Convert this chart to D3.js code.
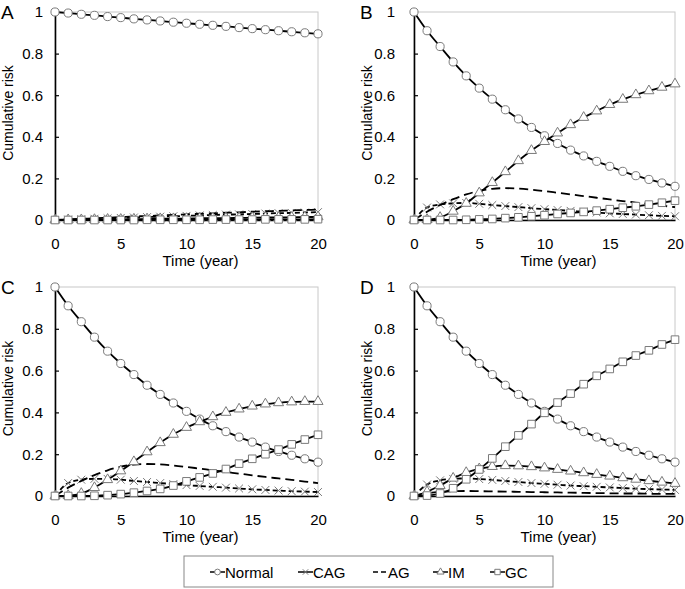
<!DOCTYPE html>
<html>
<head>
<meta charset="utf-8">
<script src="https://cdn.jsdelivr.net/npm/d3@7"></script>
<style>
  body { margin: 0; background: #fff; }
  svg { display: block; }
</style>
</head>
<body>
<div id="app"></div>
<script>
// time points (years)
const years = [0,1,2,3,4,5,6,7,8,9,10,11,12,13,14,15,16,17,18,19,20];
const xTicks = [0, 5, 10, 15, 20];
const yTicks = [0, 0.2, 0.4, 0.6, 0.8, 1];
const yTickLabels = ['0', '0.2', '0.4', '0.6', '0.8', '1'];
const seriesNames = ['Normal', 'CAG', 'AG', 'IM', 'GC'];
const panelLabels = ['A', 'B', 'C', 'D'];

// panel A
const normalA = [1.000,0.995,0.989,0.984,0.978,0.973,0.967,0.962,0.957,0.951,0.946,0.941,0.936,0.931,0.925,0.920,0.915,0.910,0.905,0.900,0.895];
const cagA = [0,0.002,0.004,0.006,0.008,0.010,0.012,0.014,0.016,0.018,0.020,0.022,0.024,0.026,0.027,0.029,0.031,0.033,0.034,0.036,0.038];
const agA = [0,0.003,0.006,0.008,0.011,0.014,0.017,0.019,0.022,0.025,0.027,0.030,0.032,0.035,0.037,0.040,0.042,0.044,0.046,0.048,0.050];
const imA = [0,0.001,0.001,0.002,0.003,0.003,0.004,0.005,0.006,0.006,0.007,0.008,0.009,0.009,0.010,0.011,0.012,0.012,0.013,0.014,0.015];
const gcA = [0,0,0,0,0,0,0,0.001,0.001,0.001,0.001,0.001,0.002,0.002,0.002,0.002,0.003,0.003,0.003,0.003,0.004];

// panel B
const normalB = [1,0.910,0.834,0.760,0.693,0.634,0.581,0.530,0.486,0.445,0.405,0.368,0.336,0.308,0.282,0.258,0.234,0.213,0.195,0.178,0.162];
const cagB = [0,0.060,0.075,0.080,0.082,0.078,0.072,0.067,0.062,0.057,0.052,0.048,0.044,0.040,0.036,0.032,0.029,0.026,0.023,0.020,0.018];
const agB = [0,0.040,0.072,0.100,0.123,0.140,0.150,0.153,0.151,0.146,0.139,0.131,0.123,0.115,0.107,0.099,0.091,0.084,0.077,0.069,0.062];
const imB = [0,0.002,0.012,0.042,0.080,0.130,0.180,0.232,0.285,0.334,0.377,0.418,0.458,0.493,0.524,0.555,0.580,0.602,0.621,0.638,0.654];
const gcB = [0,0,0,0,0.001,0.003,0.005,0.009,0.013,0.018,0.023,0.029,0.034,0.039,0.045,0.052,0.059,0.066,0.074,0.083,0.093];

// panel C
const normalC = [1,0.910,0.834,0.760,0.693,0.634,0.581,0.530,0.486,0.445,0.405,0.368,0.336,0.308,0.282,0.258,0.234,0.213,0.195,0.178,0.162];
const cagC = [0,0.062,0.078,0.082,0.082,0.078,0.072,0.067,0.062,0.057,0.052,0.048,0.044,0.040,0.036,0.032,0.029,0.026,0.023,0.021,0.019];
const agC = [0,0.040,0.072,0.100,0.123,0.140,0.150,0.153,0.151,0.146,0.139,0.131,0.123,0.115,0.107,0.099,0.091,0.084,0.077,0.069,0.062];
const imC = [0,0.002,0.012,0.040,0.078,0.120,0.164,0.211,0.255,0.295,0.328,0.355,0.379,0.400,0.416,0.430,0.440,0.446,0.450,0.452,0.452];
const gcC = [0,0,0,0.001,0.004,0.009,0.016,0.024,0.034,0.050,0.070,0.089,0.108,0.129,0.155,0.178,0.200,0.222,0.247,0.270,0.293];

// panel D
const normalD = [1,0.910,0.834,0.760,0.693,0.634,0.581,0.530,0.486,0.445,0.405,0.368,0.336,0.308,0.282,0.258,0.234,0.213,0.195,0.178,0.162];
const cagD = [0,0.055,0.075,0.082,0.084,0.081,0.077,0.072,0.067,0.062,0.058,0.054,0.050,0.047,0.044,0.041,0.038,0.035,0.033,0.031,0.029];
const agD = [0,0.013,0.020,0.023,0.024,0.023,0.022,0.021,0.020,0.019,0.018,0.017,0.016,0.015,0.014,0.013,0.012,0.012,0.011,0.010,0.010];
const imD = [0,0.020,0.050,0.085,0.112,0.130,0.141,0.145,0.144,0.140,0.134,0.127,0.119,0.111,0.103,0.095,0.087,0.080,0.073,0.066,0.060];
const gcD = [0,0.002,0.012,0.037,0.080,0.127,0.180,0.236,0.290,0.344,0.398,0.447,0.490,0.535,0.575,0.608,0.642,0.672,0.697,0.725,0.748];

const panelData = [
  [normalA, cagA, agA, imA, gcA],
  [normalB, cagB, agB, imB, gcB],
  [normalC, cagC, agC, imC, gcC],
  [normalD, cagD, agD, imD, gcD]
];

// plot boxes
const boxes = [
  { x0: 55,  x1: 318, y0: 12,  y1: 220, pad: 12 },
  { x0: 414, x1: 675, y0: 12,  y1: 220, pad: 19 },
  { x0: 55,  x1: 318, y0: 287, y1: 496, pad: 12 },
  { x0: 414, x1: 675, y0: 287, y1: 496, pad: 19 }
];

const font = '"Liberation Sans", Arial, sans-serif';
const markGray = '#7a7a7a';

// line/marker styles per series
const styles = {
  Normal: { dash: null,  symbol: d3.symbolCircle,   size: 52 },
  CAG:    { dash: '5,3', symbol: d3.symbolTimes,    size: 42 },
  AG:     { dash: '9,5', symbol: null,              size: 0 },
  IM:     { dash: null,  symbol: d3.symbolTriangle, size: 44 },
  GC:     { dash: null,  symbol: d3.symbolSquare,   size: 58 }
};

const svg = d3.select('#app').append('svg')
    .attr('width', 685)
    .attr('height', 589)
    .style('font-family', font);

boxes.forEach((b, i) => {
  const x = d3.scaleLinear().domain([0, 20]).range([b.x0, b.x1]);
  const y = d3.scaleLinear().domain([0, 1]).range([b.y1, b.y0]);
  const g = svg.append('g');

  // light frame
  g.append('rect')
      .attr('x', b.x0).attr('y', b.y0)
      .attr('width', b.x1 - b.x0).attr('height', b.y1 - b.y0)
      .attr('fill', 'none')
      .attr('stroke', '#c8c8c8')
      .attr('stroke-width', 1);

  // y axis
  const yAxis = g.append('g')
      .attr('transform', `translate(${b.x0},0)`)
      .call(d3.axisLeft(y).tickValues(yTicks)
        .tickFormat((d, k) => yTickLabels[k])
        .tickSizeInner(-4).tickSizeOuter(0).tickPadding(b.pad));
  yAxis.select('.domain').attr('stroke', '#000').attr('stroke-width', 1.6);
  yAxis.selectAll('.tick line').attr('stroke', '#000').attr('stroke-width', 1.2);
  yAxis.selectAll('text').attr('font-size', 15).attr('fill', '#000').style('font-family', font);

  // x axis
  const xAxis = g.append('g')
      .attr('transform', `translate(0,${b.y1})`)
      .call(d3.axisBottom(x).tickValues(xTicks).tickSize(0).tickPadding(18));
  xAxis.select('.domain').attr('stroke', '#000').attr('stroke-width', 1.6);
  xAxis.selectAll('text').attr('font-size', 15).attr('fill', '#000').style('font-family', font);

  // axis titles
  g.append('text')
      .attr('x', (b.x0 + b.x1) / 2 + 14)
      .attr('y', b.y1 + 46)
      .attr('text-anchor', 'middle')
      .attr('font-size', 15)
      .text('Time (year)');

  g.append('text')
      .attr('transform', `translate(${b.x0 - 42},${(b.y0 + b.y1) / 2 - 3}) rotate(-90)`)
      .attr('text-anchor', 'middle')
      .attr('font-size', 14)
      .text('Cumulative risk');

  // panel letter
  g.append('text')
      .attr('x', i % 2 === 0 ? 1 : 360)
      .attr('y', b.y0 + 7)
      .attr('font-size', 19)
      .text(panelLabels[i]);

  // series
  const line = d3.line().x((d, k) => x(years[k])).y(d => y(d)).curve(d3.curveMonotoneX);
  seriesNames.forEach((name, s) => {
    const vals = panelData[i][s];
    const st = styles[name];
    g.append('path')
        .datum(vals)
        .attr('d', line)
        .attr('fill', 'none')
        .attr('stroke', '#000')
        .attr('stroke-width', 1.8)
        .attr('stroke-dasharray', st.dash);
    if (st.symbol) {
      g.selectAll(null)
          .data(vals)
          .enter().append('path')
          .attr('transform', (d, k) => `translate(${x(years[k])},${y(d)})`)
          .attr('d', d3.symbol().type(st.symbol).size(st.size))
          .attr('fill', name === 'CAG' ? 'none' : '#fff')
          .attr('stroke', markGray)
          .attr('stroke-width', 1);
    }
  });
});

// legend
const legend = svg.append('g');
legend.append('rect')
    .attr('x', 184).attr('y', 556)
    .attr('width', 369).attr('height', 31)
    .attr('fill', '#fff')
    .attr('stroke', '#888')
    .attr('stroke-width', 1);

const legendX = [210, 298, 373, 433, 490];
seriesNames.forEach((name, s) => {
  const st = styles[name];
  const lx = legendX[s];
  const ly = 572;
  legend.append('line')
      .attr('x1', lx).attr('x2', lx + 15)
      .attr('y1', ly).attr('y2', ly)
      .attr('stroke', '#000')
      .attr('stroke-width', 1.5)
      .attr('stroke-dasharray', name === 'AG' ? '5,3' : null);
  if (st.symbol) {
    legend.append('path')
        .attr('transform', `translate(${lx + 7.5},${ly})`)
        .attr('d', d3.symbol().type(st.symbol).size(st.size * 0.5))
        .attr('fill', name === 'CAG' ? 'none' : '#fff')
        .attr('stroke', markGray)
        .attr('stroke-width', 1);
  }
  legend.append('text')
      .attr('x', lx + 15)
      .attr('y', ly + 5.5)
      .attr('font-size', 15)
      .text(name);
});
</script>
</body>
</html>
